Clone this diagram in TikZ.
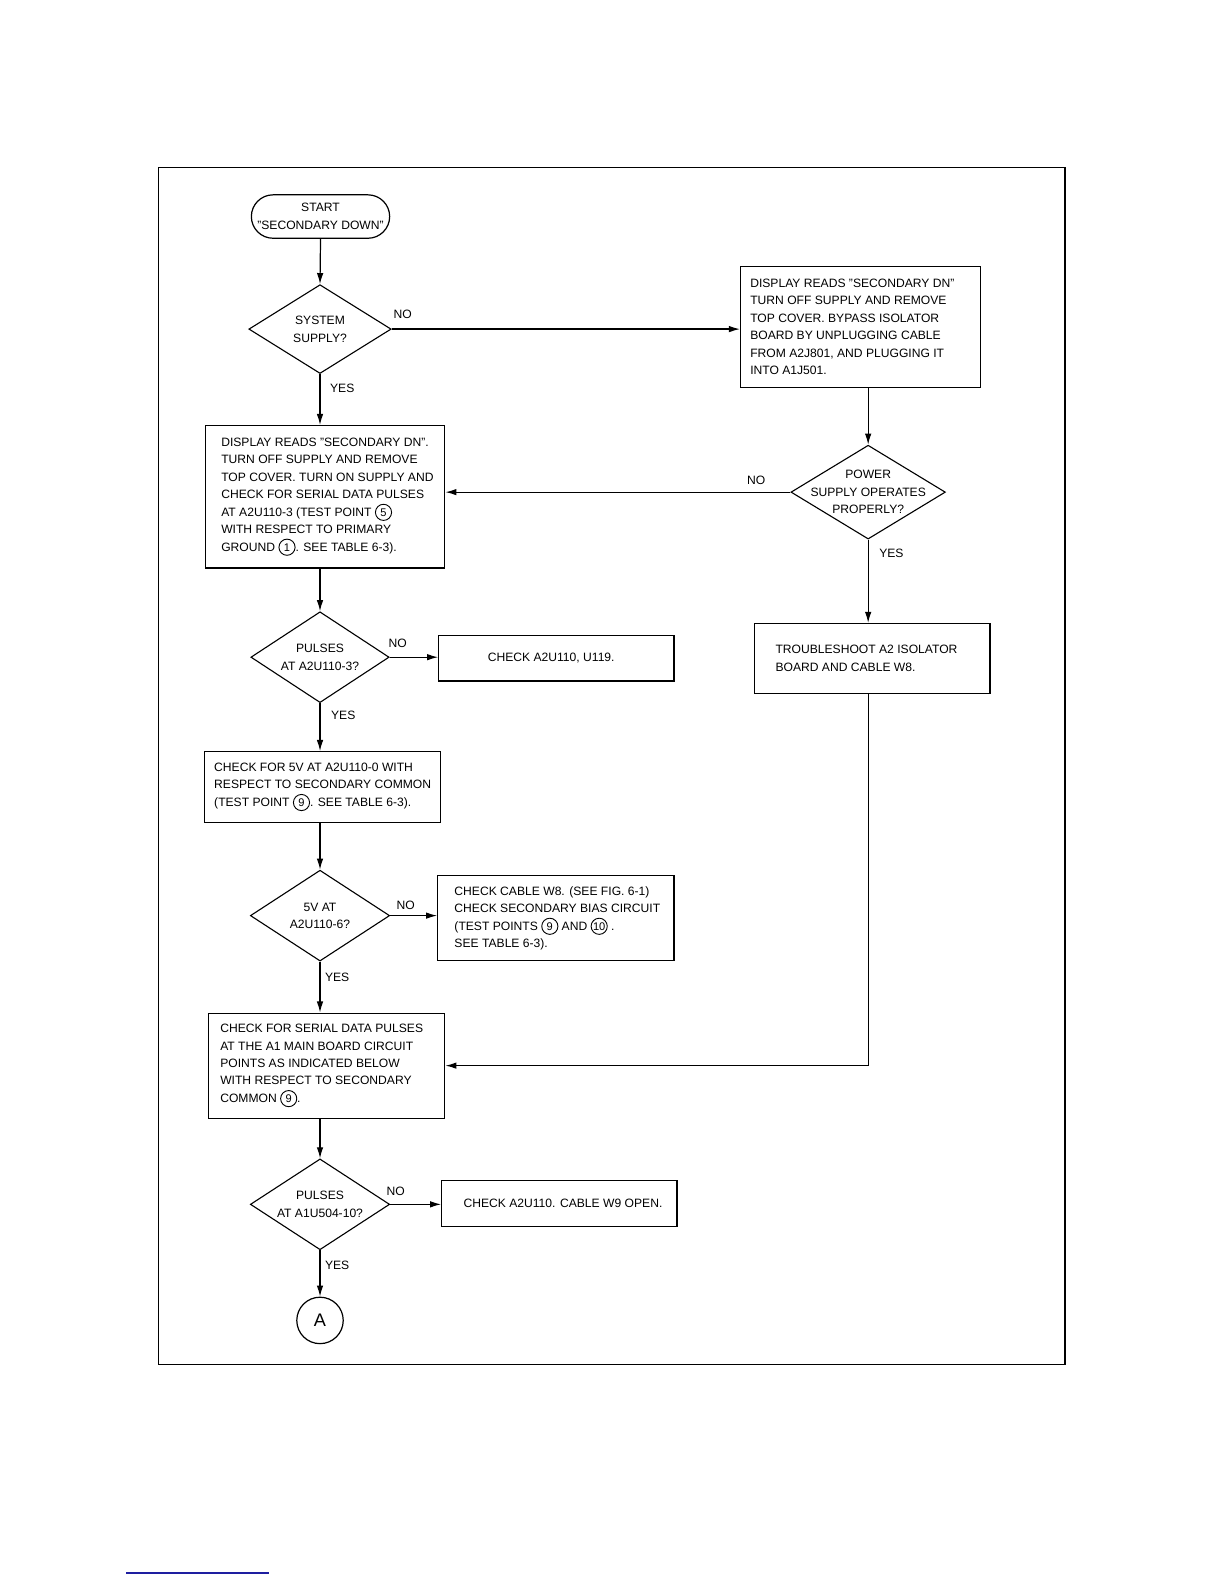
\documentclass[tikz,border=0pt]{standalone}
\usepackage{fontspec}
\setmainfont{Liberation Sans}
\usetikzlibrary{shapes.geometric,arrows.meta}
\definecolor{linkblue}{RGB}{30,30,160}
\newcommand\cnum[1]{\tikz[baseline=(cn.base)]\node[draw,circle,line width=0.9pt,inner sep=0.3pt,minimum size=16pt,font=\fontsize{11}{11}\selectfont](cn){#1};}
\tikzset{
  conn/.style={line width=1.2pt},
  arr/.style={line width=1.2pt,-{Latex[length=11pt,width=6.5pt]}},
  boxnode/.style={draw,line width=1.2pt,inner sep=0pt,anchor=north west},
  txt/.style={font=\fontsize{12}{17.3}\selectfont,align=left,inner sep=0pt,anchor=west},
  ctxt/.style={font=\fontsize{12}{17.3}\selectfont,align=center,inner sep=0pt},
  dia/.style={diamond,draw,line width=1.1pt,inner sep=0pt},
  lbl/.style={font=\fontsize{12}{14}\selectfont,inner sep=0pt}
}
\begin{document}
\begin{tikzpicture}[x=1pt,y=-1pt]
\fill[white] (0,0) rectangle (1212.5,1569.1);
\useasboundingbox (0,0) rectangle (1212.5,1569.1);
% frame
\draw[line width=1.1pt] (157,166) rectangle (1055,1352);
\draw[linkblue,line width=1.5pt] (125,1558) -- (266,1558);

% start
\node[draw,line width=1.2pt,rounded corners=21.5pt,minimum width=137pt,minimum height=43pt,inner sep=0pt,ctxt] (start) at (317.5,214.5) {START\\"SECONDARY DOWN"};

% diamond 1
\node[dia,minimum width=141pt,minimum height=88pt] (d1) at (317,326) {};
\node[ctxt] (d1t) at (d1.center) {SYSTEM\\SUPPLY?};

% right box 1
\node[boxnode,minimum width=238pt,minimum height=120pt] (b1) at (733,263) {};
\node[txt] (b1t) at ([xshift=10pt]b1.west) {DISPLAY READS "SECONDARY DN"\\TURN OFF SUPPLY AND REMOVE\\TOP COVER. BYPASS ISOLATOR\\BOARD BY UNPLUGGING CABLE\\FROM A2J801, AND PLUGGING IT\\INTO A1J501.};

% diamond 2
\node[dia,minimum width=153pt,minimum height=93pt] (d2) at (860,487.5) {};
\node[ctxt] (d2t) at (d2.center) {POWER\\SUPPLY OPERATES\\PROPERLY?};

% left box 2
\node[boxnode,minimum width=237pt,minimum height=141pt] (b2) at (203,421) {};
\node[txt] (b2t) at ([xshift=16pt]b2.west) {DISPLAY READS "SECONDARY DN".\\TURN OFF SUPPLY AND REMOVE\\TOP COVER. TURN ON SUPPLY AND\\CHECK FOR SERIAL DATA PULSES\\AT A2U110-3 (TEST POINT \cnum{5}\\WITH RESPECT TO PRIMARY\\GROUND \cnum{1}. SEE TABLE 6-3).};

% troubleshoot box
\node[boxnode,minimum width=233pt,minimum height=69pt] (b4) at (747,617) {};
\node[txt] (b4t) at ([xshift=21pt]b4.west) {TROUBLESHOOT A2 ISOLATOR\\BOARD AND CABLE W8.};

% diamond 3
\node[dia,minimum width=137pt,minimum height=90pt] (d3) at (317,651) {};
\node[ctxt] (d3t) at (d3.center) {PULSES\\AT A2U110-3?};

% box 3
\node[boxnode,minimum width=233pt,minimum height=45pt] (b3) at (434,629) {};
\node[txt] (b3t) at ([xshift=49pt]b3.west) {CHECK A2U110, U119.};

% box 5
\node[boxnode,minimum width=234pt,minimum height=70pt] (b5) at (202,744) {};
\node[txt] (b5t) at ([xshift=10pt]b5.west) {CHECK FOR 5V AT A2U110-0 WITH\\RESPECT TO SECONDARY COMMON\\(TEST POINT \cnum{9}. SEE TABLE 6-3).};

% diamond 4
\node[dia,minimum width=138pt,minimum height=90pt] (d4) at (317,907) {};
\node[ctxt] (d4t) at (d4.center) {5V AT\\A2U110-6?};

% box 6
\node[boxnode,minimum width=234pt,minimum height=84pt] (b6) at (433,867) {};
\node[txt] (b6t) at ([xshift=17pt]b6.west) {CHECK CABLE W8. (SEE FIG. 6-1)\\CHECK SECONDARY BIAS CIRCUIT\\(TEST POINTS \cnum{9} AND \cnum{10} .\\SEE TABLE 6-3).};

% box 7
\node[boxnode,minimum width=234pt,minimum height=104pt] (b7) at (206,1003) {};
\node[txt] (b7t) at ([xshift=12pt]b7.west) {CHECK FOR SERIAL DATA PULSES\\AT THE A1 MAIN BOARD CIRCUIT\\POINTS AS INDICATED BELOW\\WITH RESPECT TO SECONDARY\\COMMON \cnum{9}.};

% diamond 5
\node[dia,minimum width=138pt,minimum height=90pt] (d5) at (317,1193) {};
\node[ctxt] (d5t) at (d5.center) {PULSES\\AT A1U504-10?};

% box 8
\node[boxnode,minimum width=233pt,minimum height=45pt] (b8) at (437,1169) {};
\node[txt] (b8t) at ([xshift=22pt]b8.west) {CHECK A2U110. CABLE W9 OPEN.};

% connector A
\node[draw,circle,line width=1.2pt,minimum size=46pt,inner sep=0pt,font=\fontsize{18}{18}\selectfont] (A) at (317,1308) {A};

% labels
\node[lbl] (n1) at (399,311) {NO};
\node[lbl] (y1) at (339,385) {YES};
\node[lbl] (n2) at (749,476) {NO};
\node[lbl] (y2) at (883,548) {YES};
\node[lbl] (n3) at (394,637) {NO};
\node[lbl] (y3) at (340,709) {YES};
\node[lbl] (n4) at (402,897) {NO};
\node[lbl] (y4) at (334,968) {YES};
\node[lbl] (n5) at (392,1180) {NO};
\node[lbl] (y5) at (334,1253) {YES};

% connectors
\draw[arr] (start.south) -- (d1.north);
\draw[arr] (d1.east) -- (d1.east -| b1.west);
\draw[arr] (d1.south) -- (d1.south |- b2.north);
\draw[arr] (d2.north |- b1.south) -- (d2.north);
\draw[arr] (d2.west) -- (d2.west -| b2.east);
\draw[arr] (d2.south) -- (d2.south |- b4.north);
\draw[arr] (d2.south |- b4.south) |- (b7.east);
\draw[arr] (d3.north |- b2.south) -- (d3.north);
\draw[arr] (d3.east) -- (d3.east -| b3.west);
\draw[arr] (d3.south) -- (d3.south |- b5.north);
\draw[arr] (d4.north |- b5.south) -- (d4.north);
\draw[arr] (d4.east) -- (d4.east -| b6.west);
\draw[arr] (d4.south) -- (d4.south |- b7.north);
\draw[arr] (d5.north |- b7.south) -- (d5.north);
\draw[arr] (d5.east) -- (d5.east -| b8.west);
\draw[arr] (d5.south) -- (A.north);
\end{tikzpicture}
\end{document}
